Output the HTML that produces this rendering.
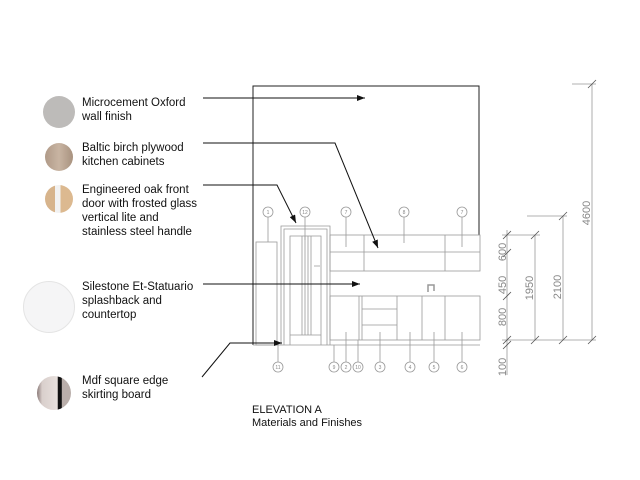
<!DOCTYPE html>
<html><head><style>
body{margin:0;background:#fff;width:640px;height:480px;overflow:hidden;font-family:"Liberation Sans",sans-serif}
.t{position:absolute;font-size:11.5px;line-height:14px;color:#111}
.c{position:absolute;border-radius:50%}
</style></head><body>
<div class="c" style="left:43px;top:96px;width:32px;height:32px;background:#bdbbb9"></div>
<div class="c" style="left:45px;top:143px;width:28px;height:28px;background:linear-gradient(90deg,#b09a88,#c8b4a2,#a8927f)"></div>
<div class="c" style="left:45px;top:185px;width:28px;height:28px;background:linear-gradient(90deg,#d7b48c 0,#d7b48c 35%,#f2f2f2 35%,#f2f2f2 55%,#dcb990 55%)"></div>
<div class="c" style="left:23px;top:281px;width:50px;height:50px;background:#f5f5f6;border:1px solid #e4e4e4"></div>
<div class="c" style="left:37px;top:376px;width:34px;height:34px;background:linear-gradient(90deg,#8a7a78 0,#d9cfcc 15%,#e8e0dd 60%,#111 62%,#111 72%,#b9aeaa 74%)"></div>
<div class="t" style="left:82px;top:96px">Microcement Oxford<br>wall finish</div>
<div class="t" style="left:82px;top:141px">Baltic birch plywood<br>kitchen cabinets</div>
<div class="t" style="left:82px;top:183px">Engineered oak front<br>door with frosted glass<br>vertical lite and<br>stainless steel handle</div>
<div class="t" style="left:82px;top:280px">Silestone Et-Statuario<br>splashback and<br>countertop</div>
<div class="t" style="left:82px;top:374px">Mdf square edge<br>skirting board</div>
<div class="t" style="left:252px;top:404px;font-size:11px;line-height:13px">ELEVATION A<br>Materials and Finishes</div>
<svg width="640" height="480" style="position:absolute;left:0;top:0" font-family="Liberation Sans" >
<defs><marker id="a" markerWidth="8" markerHeight="6" refX="8" refY="3" orient="auto"><path d="M0,0 L8,3 L0,6z" fill="#111"/></marker></defs>
<g fill="none" stroke="#222" stroke-width="1">
<path d="M253,345 V86 H479 V235"/>
</g>
<g fill="none" stroke="#999" stroke-width="0.8">
<rect x="256" y="242" width="21" height="103"/>
<path d="M281,345 V226 H330 V345 M284,345 V229 H327 V345 M290,345 V236 H321 V345 M290,335 H321 M302,236V335 M305,236V335 M308,236V335 M311,236V335 M314,266h6"/>
<rect x="330" y="235" width="150" height="36"/><path d="M364,235V271 M445,235V271 M330,252H364 M445,252H480 M364,252H445"/>
<rect x="330" y="296" width="150" height="44"/><path d="M359,296V340 M362,296V340 M397,296V340 M422,296V340 M445,296V340 M362,309H397 M362,325H397 M253,345H480"/>
<path d="M428,292 V285 h6 v6" stroke-width="1.5"/>
<path d="M268,217V242 M305,217V240 M346,217V247 M404,217V243 M462,217V247 M278,345V362 M334,345V362 M346,332V362 M358,340V362 M380,332V362 M410,332V362 M434,332V362 M462,332V362"/>
<path d="M507,230V375 M535,235V340 M563,216V340 M592,84V340 M502,235H540 M527,216H567 M572,84H596 M502,340H596"/>
<path d="M503,239l8,-8 M503,257l8,-8 M503,300l8,-8 M503,344l8,-8 M503,349l8,-8 M531,239l8,-8 M531,344l8,-8 M559,220l8,-8 M559,344l8,-8 M588,88l8,-8 M588,344l8,-8" stroke="#555"/>
</g>
<g fill="#fff" stroke="#999" stroke-width="0.8" font-size="5" text-anchor="middle">
<circle cx="268" cy="212" r="5"/><circle cx="305" cy="212" r="5"/><circle cx="346" cy="212" r="5"/><circle cx="404" cy="212" r="5"/><circle cx="462" cy="212" r="5"/>
<circle cx="278" cy="367" r="5"/><circle cx="334" cy="367" r="5"/><circle cx="346" cy="367" r="5"/><circle cx="358" cy="367" r="5"/><circle cx="380" cy="367" r="5"/><circle cx="410" cy="367" r="5"/><circle cx="434" cy="367" r="5"/><circle cx="462" cy="367" r="5"/>
</g>
<g fill="#888" font-size="5" text-anchor="middle">
<text x="268" y="214">1</text><text x="305" y="214">12</text><text x="346" y="214">7</text><text x="404" y="214">8</text><text x="462" y="214">7</text>
<text x="278" y="369">11</text><text x="334" y="369">9</text><text x="346" y="369">2</text><text x="358" y="369">10</text><text x="380" y="369">3</text><text x="410" y="369">4</text><text x="434" y="369">5</text><text x="462" y="369">6</text>
</g>
<g fill="none" stroke="#111" stroke-width="1">
<path d="M203,98H365" marker-end="url(#a)"/>
<path d="M203,143H335L378,248" marker-end="url(#a)"/>
<path d="M203,185H277L296,223" marker-end="url(#a)"/>
<path d="M203,284H360" marker-end="url(#a)"/>
<path d="M202,377L230,343H282" marker-end="url(#a)"/>
</g>
<g fill="#888" font-size="11" text-anchor="middle">
<text transform="translate(506,367) rotate(-90)">100</text>
<text transform="translate(506,317) rotate(-90)">800</text>
<text transform="translate(506,285) rotate(-90)">450</text>
<text transform="translate(506,252) rotate(-90)">600</text>
<text transform="translate(533,288) rotate(-90)">1950</text>
<text transform="translate(561,287) rotate(-90)">2100</text>
<text transform="translate(590,213) rotate(-90)">4600</text>
</g>
</svg>
</body></html>
